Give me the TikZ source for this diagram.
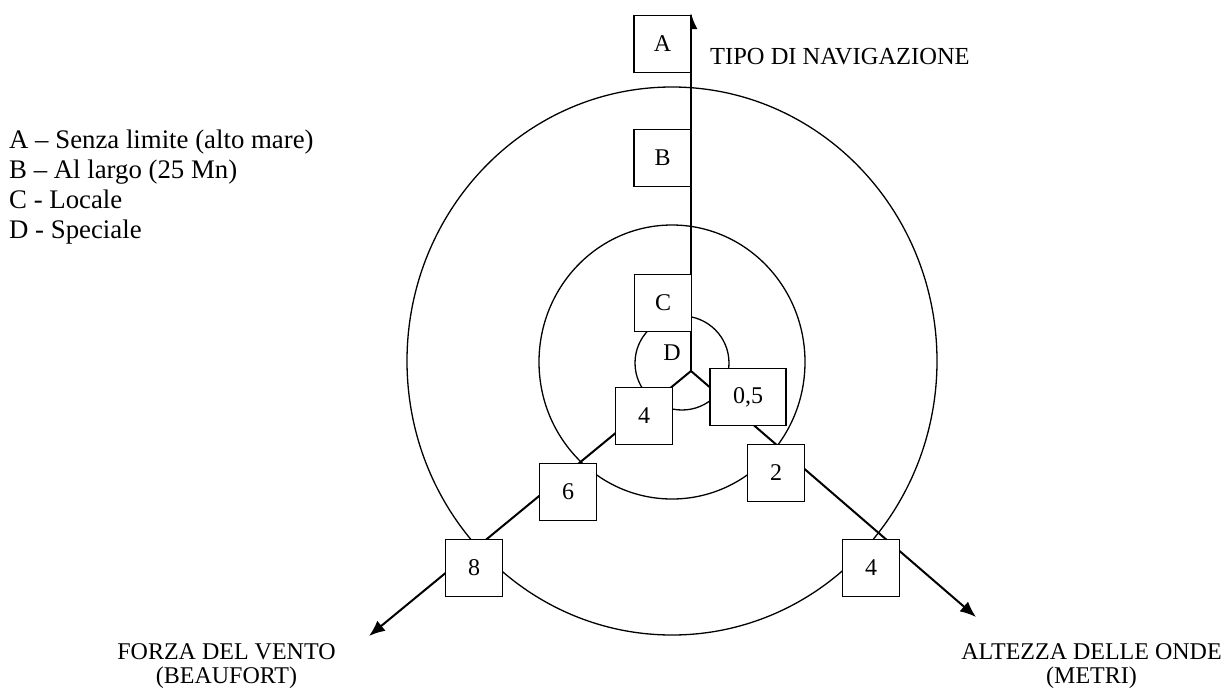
\documentclass[tikz,border=0pt]{standalone}
\usepackage{fontspec}
\setmainfont{Liberation Serif}
\usetikzlibrary{arrows.meta,positioning}
\tikzset{>={Latex[length=16pt,width=13pt]}}

\begin{document}
\begin{tikzpicture}[x=1pt, y=-1pt, font=\fontsize{24}{24}\selectfont,
		box/.style={draw, fill=white, line width=1.3pt, minimum width=57pt, minimum height=57pt, inner sep=0pt},
		axis/.style={line width=2pt, ->},
		ring/.style={line width=1.3pt}]
	\useasboundingbox (0,0) rectangle (1227,689);
	% cerchi
	\draw[ring] (672,361) ellipse [x radius=265pt, y radius=274pt];
	\draw[ring] (672,362) ellipse [x radius=133pt, y radius=137pt];
	\draw[ring] (682,363) circle [radius=47pt];
	% assi
	\coordinate (centre) at (691,371);
	\coordinate (navtip) at (691,13);
	\coordinate (windtip) at (369,636);
	\coordinate (wavetip) at (976,617);
	\draw[axis] (centre) -- (navtip);
	\draw[axis] (centre) -- (windtip);
	\draw[axis] (centre) -- (wavetip);
	% tipo di navigazione
	\node[box] (boxA) at (662.5,44) {A};
	\node[box] (boxB) at (662.5,158) {B};
	\node[box] (boxC) at (663,303) {C};
	\node (boxD) at (672,353) {D};
	% forza del vento
	\node[box] (windfour) at (644,416) {4};
	\node[box] (windsix) at (568,492) {6};
	\node[box] (windeight) at (474,568) {8};
	% altezza delle onde
	\node[box, minimum width=76pt] (wavehalf) at (748,397) {0,5};
	\node[box] (wavetwo) at (776,473) {2};
	\node[box] (wavefour) at (871,568) {4};
	% testi
	\node[anchor=base west, inner sep=0pt, font=\fontsize{24.5}{24}\selectfont] (navlabel) at (710,64) {TIPO DI NAVIGAZIONE};
	\node[anchor=base, align=center, inner sep=0pt] (windlabel) at (226.5,683) {FORZA DEL VENTO\\(BEAUFORT)};
	\node[anchor=base, align=center, inner sep=0pt] (wavelabel) at (1091.5,683) {ALTEZZA DELLE ONDE\\(METRI)};
	\node[anchor=base west, align=left, inner sep=0pt, font=\fontsize{26.8}{29.7}\selectfont] (legend) at (9,238) {A -- Senza limite (alto mare)\\B -- Al largo (25 Mn)\\C - Locale\\D - Speciale};
\end{tikzpicture}
\end{document}
